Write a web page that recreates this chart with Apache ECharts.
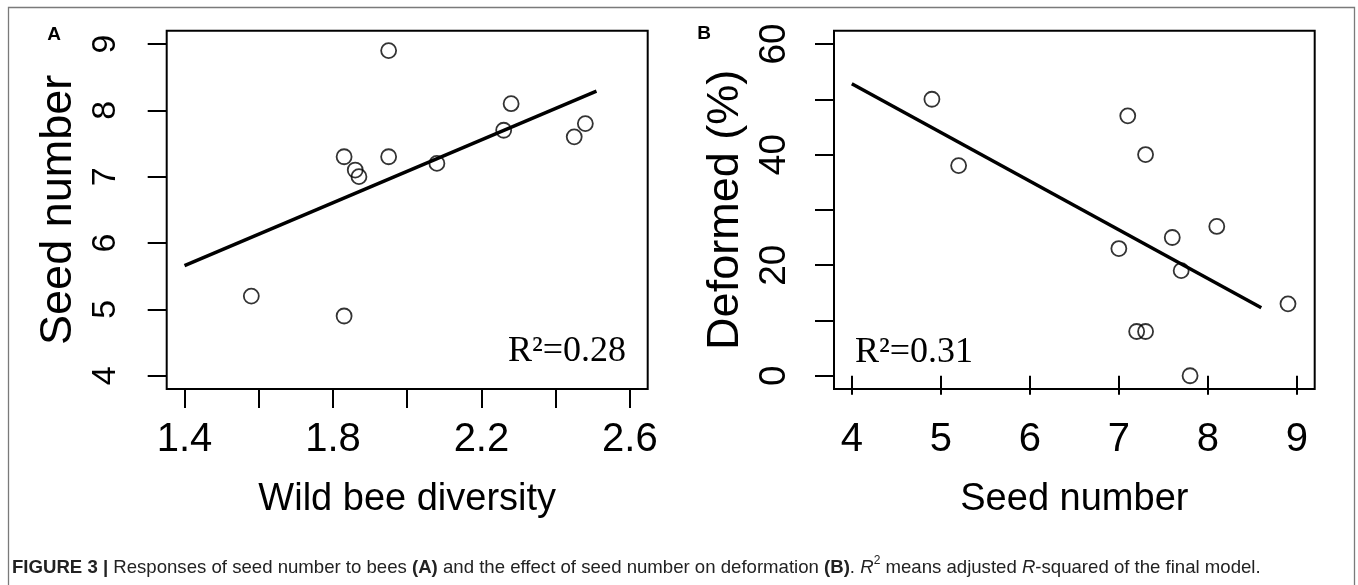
<!DOCTYPE html>
<html><head><meta charset="utf-8">
<script src="https://cdn.jsdelivr.net/npm/echarts@6/dist/echarts.min.js"></script>
<style>html,body{margin:0;padding:0;background:#fff}#c{width:1358px;height:585px}</style>
</head><body><div id="c"></div>
<script>
// Panel A data
const beeDiversity = [1.58, 1.83, 1.83, 1.86, 1.87, 1.95, 1.95, 2.08, 2.26, 2.28, 2.45, 2.48];
const seedNumberA  = [5.2, 4.9, 7.3, 7.1, 7.0, 8.9, 7.3, 7.2, 7.7, 8.1, 7.6, 7.8];
const fitAx = [1.40, 2.51];
const fitAy = [5.66, 8.29];
const xTicksA  = [1.4, 1.6, 1.8, 2.0, 2.2, 2.4, 2.6];
const xLabelsA = [1.4, 1.8, 2.2, 2.6];
const yTicksA  = [4, 5, 6, 7, 8, 9];
// Panel B data
const seedNumberB = [4.9, 5.2, 7.1, 7.3, 7.0, 7.6, 8.1, 7.7, 7.2, 7.3, 7.8, 8.9];
const deformedPct = [50, 38, 47, 40, 23, 25, 27, 19, 8, 8, 0, 13];
const fitBx = [4.0, 8.6];
const fitBy = [52.8, 12.3];
const xTicksB  = [4, 5, 6, 7, 8, 9];
const yTicksB  = [0, 10, 20, 30, 40, 50, 60];
const yLabelsB = [0, 20, 40, 60];

const SANS = '"Liberation Sans", Arial, sans-serif';
const SERIF = '"Liberation Serif", "Times New Roman", serif';

function xAxisCfg(gi, min, max, ticks, labels, name, dec) {
  return {
    type: 'value', gridIndex: gi, min: min, max: max,
    axisLine: { show: false },
    splitLine: { show: false },
    axisTick: { show: true, inside: false, length: 19, customValues: ticks, lineStyle: { color: '#000', width: 2 } },
    axisLabel: { customValues: labels, margin: 31, color: '#000', fontSize: 40, fontFamily: SANS,
      formatter: v => v.toFixed(dec) },
    name: name, nameLocation: 'middle', nameGap: 92,
    nameTextStyle: { color: '#000', fontSize: 38, fontFamily: SANS }
  };
}
function yAxisCfg(gi, min, max, ticks, labels, name, fs, margin, gap) {
  return {
    type: 'value', gridIndex: gi, min: min, max: max,
    axisLine: { show: false },
    splitLine: { show: false },
    axisTick: { show: true, inside: false, length: 19, customValues: ticks, lineStyle: { color: '#000', width: 2 } },
    axisLabel: { customValues: labels, rotate: 90, margin: margin, color: '#000', fontSize: fs, fontFamily: SANS },
    name: name, nameLocation: 'middle', nameGap: gap, nameRotate: 90,
    nameTextStyle: { color: '#000', fontSize: 45, fontFamily: SANS }
  };
}
const circleStyle = { color: 'rgba(0,0,0,0)', borderColor: '#000', borderWidth: 1.8 };

const option = {
  backgroundColor: '#fff',
  animation: false,
  grid: [
    { left: 166.7, top: 30.7, width: 481, height: 358.3, show: true, borderColor: '#000', borderWidth: 2, backgroundColor: 'transparent' },
    { left: 834, top: 30.7, width: 480.7, height: 358.3, show: true, borderColor: '#000', borderWidth: 2, backgroundColor: 'transparent' }
  ],
  xAxis: [
    xAxisCfg(0, 1.352, 2.648, xTicksA, xLabelsA, 'Wild bee diversity', 1),
    xAxisCfg(1, 3.8, 9.2, xTicksB, xTicksB, 'Seed number', 0)
  ],
  yAxis: [
    yAxisCfg(0, 3.8, 9.2, yTicksA, yTicksA, 'Seed number', 34, 44, 86),
    yAxisCfg(1, -2.4, 62.4, yTicksB, yLabelsB, 'Deformed (%)', 37, 41, 86)
  ],
  series: [
    { type: 'scatter', xAxisIndex: 0, yAxisIndex: 0, symbol: 'circle', symbolSize: 15,
      itemStyle: circleStyle, data: beeDiversity.map((x, i) => [x, seedNumberA[i]]) },
    { type: 'line', xAxisIndex: 0, yAxisIndex: 0, showSymbol: false, lineStyle: { color: '#000', width: 3.5 },
      data: fitAx.map((x, i) => [x, fitAy[i]]) },
    { type: 'scatter', xAxisIndex: 1, yAxisIndex: 1, symbol: 'circle', symbolSize: 15,
      itemStyle: circleStyle, data: seedNumberB.map((x, i) => [x, deformedPct[i]]) },
    { type: 'line', xAxisIndex: 1, yAxisIndex: 1, showSymbol: false, lineStyle: { color: '#000', width: 3.5 },
      data: fitBx.map((x, i) => [x, fitBy[i]]) }
  ],
  graphic: [
    { type: 'rect', shape: { x: 8.5, y: 7.5, width: 1346, height: 620 }, style: { fill: 'none', stroke: '#7a7a7a', lineWidth: 1.3 }, silent: true },
    { type: 'text', x: 54, y: 35, style: { text: 'A', font: 'bold 19px ' + SANS, fill: '#000', align: 'center', verticalAlign: 'middle' } },
    { type: 'text', x: 704, y: 34, style: { text: 'B', font: 'bold 19px ' + SANS, fill: '#000', align: 'center', verticalAlign: 'middle' } },
    { type: 'text', x: 626, y: 352, style: { text: 'R²=0.28', font: '36px ' + SERIF, fill: '#000', align: 'right', verticalAlign: 'middle' } },
    { type: 'text', x: 855, y: 353, style: { text: 'R²=0.31', font: '36px ' + SERIF, fill: '#000', align: 'left', verticalAlign: 'middle' } },
    { type: 'text', x: 12, y: 566, style: {
        text: '{b|FIGURE 3 |}{n| Responses of seed number to bees }{b|(A)}{n| and the effect of seed number on deformation }{b|(B)}{n|. }{i|R}{s|2}{n| means adjusted }{i|R}{n|-squared of the final model.}',
        verticalAlign: 'middle', align: 'left', fill: '#222',
        rich: {
          b: { fontSize: 18.6, fontWeight: 'bold', fontFamily: SANS, fill: '#222', verticalAlign: 'bottom', lineHeight: 22 },
          n: { fontSize: 18.6, fontFamily: SANS, fill: '#222', verticalAlign: 'bottom', lineHeight: 22 },
          i: { fontSize: 18.6, fontStyle: 'italic', fontFamily: SANS, fill: '#222', verticalAlign: 'bottom', lineHeight: 22 },
          s: { fontSize: 12, fontFamily: SANS, fill: '#222', verticalAlign: 'top', lineHeight: 14 }
        }
      } }
  ]
};
const chart = echarts.init(document.getElementById('c'), null, { renderer: 'canvas' });
chart.setOption(option);
</script>
</body></html>
